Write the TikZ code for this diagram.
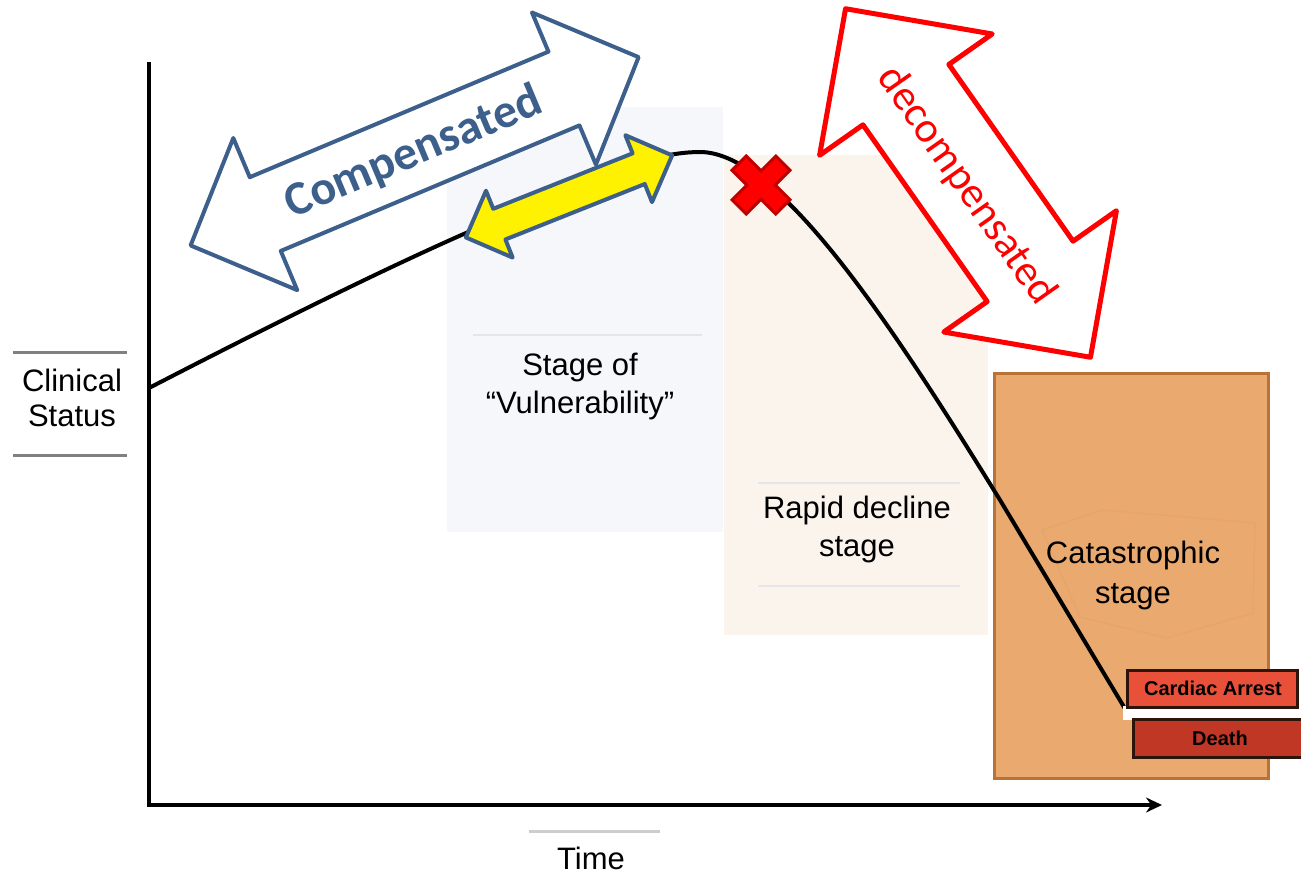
\documentclass[tikz,border=0pt]{standalone}
\usepackage{fontspec}
\setmainfont{Liberation Sans}
\newfontfamily\calfont{Carlito}
\usepackage{tikz}
\usetikzlibrary{arrows.meta}
\definecolor{arrblue}{RGB}{61,95,140}
\definecolor{vulnbg}{RGB}{245,247,250}
\definecolor{rapidbg}{RGB}{251,244,237}
\definecolor{catabg}{RGB}{234,169,110}
\definecolor{catarim}{RGB}{185,115,55}
\definecolor{arrestred}{RGB}{232,80,58}
\definecolor{deathred}{RGB}{192,55,38}
\definecolor{xred}{RGB}{255,0,0}
\definecolor{xrim}{RGB}{190,0,0}

\begin{document}
\begin{tikzpicture}[x=1pt,y=1pt,yscale=-1,xscale=1,
  lbl/.style={inner sep=0pt,align=center,font=\fontsize{31}{38}\selectfont},
  smalllbl/.style={inner sep=0pt,font=\fontsize{20}{24}\selectfont\bfseries},
  faintline/.style={color={rgb, 255:red, 228; green, 230; blue, 234},line width=1.5},
  grayline/.style={color={rgb, 255:red, 128; green, 128; blue, 128},line width=3},
  bigarrow/.style={line width=4,line join=round}]
\useasboundingbox (0,0) rectangle (1301,876);

%Shape: Rectangle [vulnerability]
\fill [vulnbg] (447,107) rectangle (723,532);
\draw [faintline] (473,335) -- (702,335);
%Shape: Rectangle [rapid decline]
\fill [rapidbg] (724,155) rectangle (988,635);
\draw [faintline] (758,483) -- (960,483);
\draw [faintline] (758,586) -- (960,586);
%Shape: Rectangle [catastrophic]
\draw [catarim,fill=catabg,line width=3] (994,373) rectangle (1268,778);
\draw [color={rgb, 255:red, 231; green, 165; blue, 106},line width=1.5] (1042,530) -- (1103,510) -- (1255,523) -- (1253,613) -- (1167,638) -- (1080,617) -- cycle;

% Text Node
\node [lbl] (vuln) at (580,386) {Stage of\\“Vulnerability”};
% Text Node
\node [lbl] (rapid) at (857,529) {Rapid decline\\stage};
% Text Node
\node [lbl,font=\fontsize{31}{40}\selectfont] (cata) at (1133,575) {Catastrophic\\stage};

%Axes
\coordinate (ytop) at (149,62);
\coordinate (origin) at (149,805);
\coordinate (xend) at (1162,805);
\draw [line width=3.5,-{Stealth[length=16,width=15]}] (ytop) -- (origin) -- (xend);

%Curve: clinical status
\draw [line width=4,line cap=round] (149,388) .. controls (300,310) and (400,262) .. (466,233) .. controls (560,192) and (640,152) .. (700,152) .. controls (780,152) and (895,330) .. (1000,500) -- (1130,717);

%Shape: Boxes at the end
\fill [white] (1123,706) rectangle (1301,720);
\fill [arrestred] (1127,670) rectangle (1297,707);
\draw [line width=3,color={rgb, 255:red, 45; green, 20; blue, 10}] (1127,670) rectangle (1297,707);
\fill [deathred] (1133,719) rectangle (1301,757);
\draw [line width=3,color={rgb, 255:red, 45; green, 20; blue, 10}] (1301,719) -- (1133,719) -- (1133,757) -- (1301,757);
% Text Node
\node [smalllbl] (arrest) at (1213,688) {Cardiac Arrest};
% Text Node
\node [smalllbl] (death) at (1220,738) {Death};

%Shape: Double Arrow [compensated]
\begin{scope}[shift={(414.6,151.3)},rotate=-22.8]
\draw [bigarrow,arrblue,fill=white] (-243,0) -- (-162,82.5) -- (-162,40) -- (162,40) -- (162,82.5) -- (243,0) -- (162,-82.5) -- (162,-40) -- (-162,-40) -- (-162,-82.5) -- cycle;
\end{scope}
% Text Node
\node [inner sep=0pt,rotate=22.8,text=arrblue,font=\calfont\fontsize{48}{50}\selectfont\bfseries] (comp) at (414,153) {Compensated};

%Shape: Double Arrow [vulnerable window]
\begin{scope}[shift={(569,196.4)},rotate=-21.7]
\draw [bigarrow,arrblue,fill=yellow] (-111,0) -- (-75,36) -- (-75,16.5) -- (75,16.5) -- (75,36) -- (111,0) -- (75,-36) -- (75,-16.5) -- (-75,-16.5) -- (-75,-36) -- cycle;
\end{scope}

%Shape: Double Arrow [decompensated]
\begin{scope}[shift={(968,183)},rotate=54.9]
\draw [line width=5,line join=round,red,fill=white] (-213,0) -- (-108,105.5) -- (-108,52.5) -- (108,52.5) -- (108,105.5) -- (213,0) -- (108,-105.5) -- (108,-52.5) -- (-108,-52.5) -- (-108,-105.5) -- cycle;
\end{scope}
% Text Node
\node [inner sep=0pt,rotate=-54.9,text=red,font=\calfont\fontsize{43}{45}\selectfont] (decomp) at (966,186) {decompensated};

%Shape: Cross
\begin{scope}[shift={(761,185)},rotate=45]
\draw [xrim,fill=xred,line width=3,line join=miter] (10,10) -- (10,31) -- (-10,31) -- (-10,10) -- (-31,10) -- (-31,-10) -- (-10,-10) -- (-10,-31) -- (10,-31) -- (10,-10) -- (31,-10) -- (31,10) -- cycle;
\end{scope}

% Text Node
\node [lbl,font=\fontsize{31}{35}\selectfont] (clinical) at (72,398) {Clinical\\Status};
\draw [grayline] (13,352) -- (127,352);
\draw [grayline] (13,455) -- (127,455);
% Text Node
\node [lbl] (time) at (591,858) {Time};
\draw [color={rgb, 255:red, 205; green, 205; blue, 205},line width=3] (529,831) -- (660,831);

\end{tikzpicture}
\end{document}
